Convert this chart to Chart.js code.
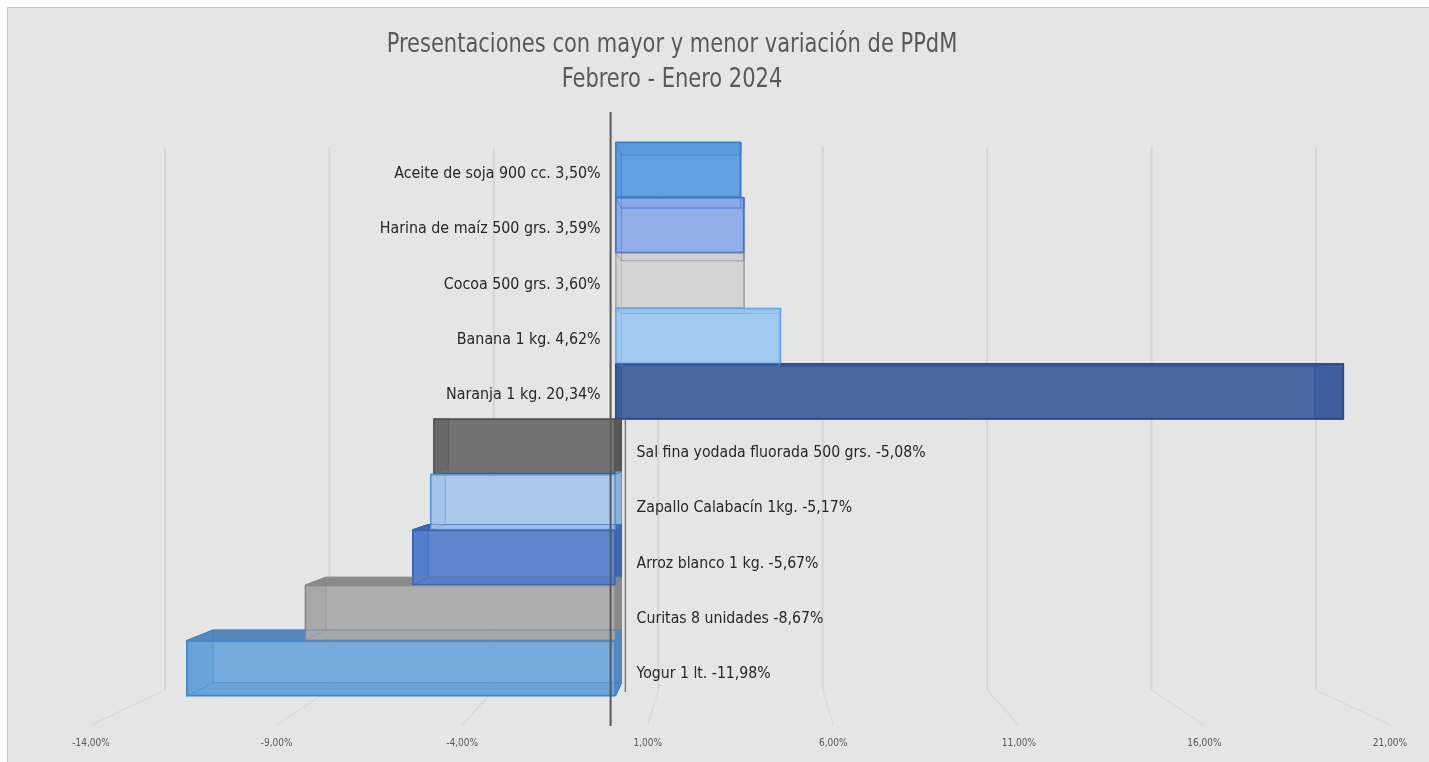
<!DOCTYPE html>
<html>
<head>
<meta charset="utf-8">
<title>Presentaciones con mayor y menor variación de PPdM</title>
<script src="https://cdn.jsdelivr.net/npm/chart.js@4.4.1/dist/chart.umd.min.js"></script>
<style>
  html, body { margin:0; padding:0; background:#fff; overflow:hidden; }
  #marco { position:absolute; left:7px; top:7px; width:1430px; height:760px; background:#e5e5e5; border:1px solid #c4c4c4; }
  #grafico { position:absolute; left:0; top:0; }
</style>
</head>
<body>
<div id="marco"></div>
<canvas id="grafico" width="1429" height="762"></canvas>
<script>
// datos del grafico
var productos = ['Aceite de soja 900 cc.', 'Harina de maíz 500 grs.', 'Cocoa 500 grs.', 'Banana 1 kg.', 'Naranja 1 kg.',
	'Sal fina yodada fluorada 500 grs.', 'Zapallo Calabacín 1kg.', 'Arroz blanco 1 kg.', 'Curitas 8 unidades', 'Yogur 1 lt.'];
var variacion = [3.50, 3.59, 3.60, 4.62, 20.34, -5.08, -5.17, -5.67, -8.67, -11.98];
var marcasEje = [-14, -9, -4, 1, 6, 11, 16, 21];
var titulo = ['Presentaciones con mayor y menor variación de PPdM', 'Febrero - Enero 2024'];

// colores de cada barra (frente, borde, caras laterales)
var colores = ['#589ce0', '#8cabea', '#d2d2d2', '#9cc8f1', '#3f5f9f', '#6a6a6a', '#a6c6e9', '#5480cc', '#aaaaaa', '#6ca5da'];
var bordes  = ['#3f7fc6', '#4a72c8', '#a8a8a8', '#6aa6e2', '#2e4a85', '#555555', '#5a95d5', '#3a62b0', '#8a8a8a', '#3f86c8'];
var caras   = ['#4a86c4', '#6f8fd0', '#b4b4b4', '#7fb0e0', '#34528c', '#585858', '#8fb1d8', '#4468b0', '#8a8a8a', '#5688bb'];

var FUENTE = "'Liberation Sans Narrow', 'Arial Narrow', 'DejaVu Sans Condensed', sans-serif";

function formato(v){ return v.toFixed(2).replace('.', ',') + '%'; }

function conAlfa(hex, a){
	var n = parseInt(hex.slice(1), 16);
	return 'rgba(' + (n >> 16) + ',' + ((n >> 8) & 255) + ',' + (n & 255) + ',' + a + ')';
}

function poligono(ctx, pts){
	ctx.beginPath();
	ctx.moveTo(pts[0][0], pts[0][1]);
	for (var i = 1; i < pts.length; i++) ctx.lineTo(pts[i][0], pts[i][1]);
	ctx.closePath();
}

// texto comprimido horizontalmente (la fuente del original es angosta)
function textoAngosto(ctx, txt, x, y, k){
	ctx.save();
	ctx.translate(x, y);
	ctx.scale(k, 1);
	ctx.fillText(txt, 0, 0);
	ctx.restore();
}

// caras frontal y trasera de cada barra en perspectiva
function geometria(chart){
	var x = chart.scales.x, y = chart.scales.y;
	var vx = x.getPixelForValue(3.5), vy = (y.getPixelForValue(4) + y.getPixelForValue(5)) / 2, s = 0.952;
	return chart.getDatasetMeta(0).data.map(function(bar){
		var p = bar.getProps(['x', 'y', 'base', 'height'], true);
		var l = Math.min(p.x, p.base), r = Math.max(p.x, p.base), t = p.y - p.height / 2, b = p.y + p.height / 2;
		var F = [[l, t], [r, t], [r, b], [l, b]];
		var B = F.map(function(c){ return [vx + s * (c[0] - vx), vy + s * (c[1] - vy)]; });
		return { F: F, B: B };
	});
}

var efecto3d = {
	id: 'efecto3d',
	beforeDatasetsDraw: function(chart){
		var ctx = chart.ctx, a = chart.chartArea;
		var xb = chart.scales.xb, xt = chart.scales.xt;
		ctx.save();
		// rejilla del fondo y lineas del piso
		marcasEje.forEach(function(v){
			var pb = xb.getPixelForValue(v), pf = xt.getPixelForValue(v);
			ctx.strokeStyle = '#d6d6d6'; ctx.lineWidth = 2;
			ctx.beginPath(); ctx.moveTo(pb, a.top + 5); ctx.lineTo(pb, a.bottom - 6); ctx.stroke();
			ctx.strokeStyle = '#d8d8d8'; ctx.lineWidth = 1.2;
			ctx.beginPath(); ctx.moveTo(pb, a.bottom - 6); ctx.lineTo(pf, a.bottom + 29); ctx.stroke();
		});
		// caras de profundidad
		geometria(chart).forEach(function(g, i){
			ctx.fillStyle = caras[i];
			ctx.strokeStyle = bordes[i]; ctx.lineWidth = 1;
			for (var k = 0; k < 4; k++){
				var k2 = (k + 1) % 4;
				poligono(ctx, [g.F[k], g.F[k2], g.B[k2], g.B[k]]);
				ctx.fill(); ctx.stroke();
			}
		});
		ctx.restore();
	},
	afterDatasetsDraw: function(chart){
		var ctx = chart.ctx, a = chart.chartArea;
		var xb = chart.scales.xb, xt = chart.scales.xt, y = chart.scales.y;
		var z = xt.getPixelForValue(0);
		ctx.save();
		// aristas traseras vistas a traves del frente
		geometria(chart).forEach(function(g, i){
			ctx.strokeStyle = conAlfa(bordes[i], 0.45); ctx.lineWidth = 1;
			poligono(ctx, g.B); ctx.stroke();
			for (var k = 0; k < 4; k++){
				ctx.beginPath(); ctx.moveTo(g.F[k][0], g.F[k][1]); ctx.lineTo(g.B[k][0], g.B[k][1]); ctx.stroke();
			}
		});
		// ejes verticales en cero
		ctx.strokeStyle = '#7a7a7a'; ctx.lineWidth = 1.5;
		var yc = (y.getPixelForValue(4) + y.getPixelForValue(5)) / 2;
		ctx.beginPath(); ctx.moveTo(xb.getPixelForValue(0), yc); ctx.lineTo(xb.getPixelForValue(0), a.bottom - 4); ctx.stroke();
		ctx.strokeStyle = '#595959'; ctx.lineWidth = 2;
		ctx.beginPath(); ctx.moveTo(z, a.top - 30); ctx.lineTo(z, a.bottom + 30); ctx.stroke();
		// etiquetas de cada barra
		ctx.font = '16px ' + FUENTE;
		ctx.fillStyle = '#262626';
		ctx.textBaseline = 'middle';
		variacion.forEach(function(v, i){
			var cy = y.getPixelForValue(i);
			var txt = productos[i] + ' ' + formato(v);
			if (v >= 0){ ctx.textAlign = 'right'; textoAngosto(ctx, txt, z - 10, cy + 4, 0.99); }
			else { ctx.textAlign = 'left'; textoAngosto(ctx, txt, z + 26, cy + 6, 0.98); }
		});
		// titulo
		ctx.font = '27px ' + FUENTE;
		ctx.fillStyle = '#595959';
		ctx.textAlign = 'center';
		textoAngosto(ctx, titulo[0], 672, 45, 0.865);
		textoAngosto(ctx, titulo[1], 672, 80, 0.865);
		ctx.restore();
	}
};

new Chart(document.getElementById('grafico'), {
	type: 'bar',
	data: {
		labels: productos,
		datasets: [{
			data: variacion,
			xAxisID: 'x',
			yAxisID: 'y',
			backgroundColor: colores.map(function(c){ return conAlfa(c, 0.93); }),
			borderColor: bordes,
			borderWidth: 1.5,
			borderSkipped: false,
			barPercentage: 1,
			categoryPercentage: 1
		}]
	},
	options: {
		indexAxis: 'y',
		responsive: false,
		animation: false,
		layout: { padding: { left: 20, right: 20, top: 142, bottom: 0 } },
		plugins: { legend: { display: false }, title: { display: false }, tooltip: { enabled: false } },
		scales: {
			// escala de las barras (plano frontal)
			x: { type: 'linear', display: false, min: (20 - 615.5) / 35.8, max: (1409 - 615.5) / 35.8 },
			// escala del fondo (rejilla)
			xb: { type: 'linear', axis: 'x', display: false, min: (20 - 625.4) / 32.886, max: (1409 - 625.4) / 32.886 },
			// escala de las marcas del piso
			xt: {
				type: 'linear', axis: 'x', position: 'bottom',
				min: (20 - 610.6) / 37.114, max: (1409 - 610.6) / 37.114,
				grid: { display: false, drawTicks: false },
				border: { display: false },
				afterBuildTicks: function(axis){ axis.ticks = marcasEje.map(function(v){ return { value: v }; }); },
				afterFit: function(axis){ axis.height = 66; axis.paddingLeft = 0; axis.paddingRight = 0; },
				ticks: {
					padding: 41,
					autoSkip: false,
					maxRotation: 0,
					color: '#595959',
					font: { family: FUENTE, size: 10 },
					callback: function(v){ return formato(v); }
				}
			},
			y: { type: 'category', display: false, offset: true }
		}
	},
	plugins: [efecto3d]
});
</script>
</body>
</html>
